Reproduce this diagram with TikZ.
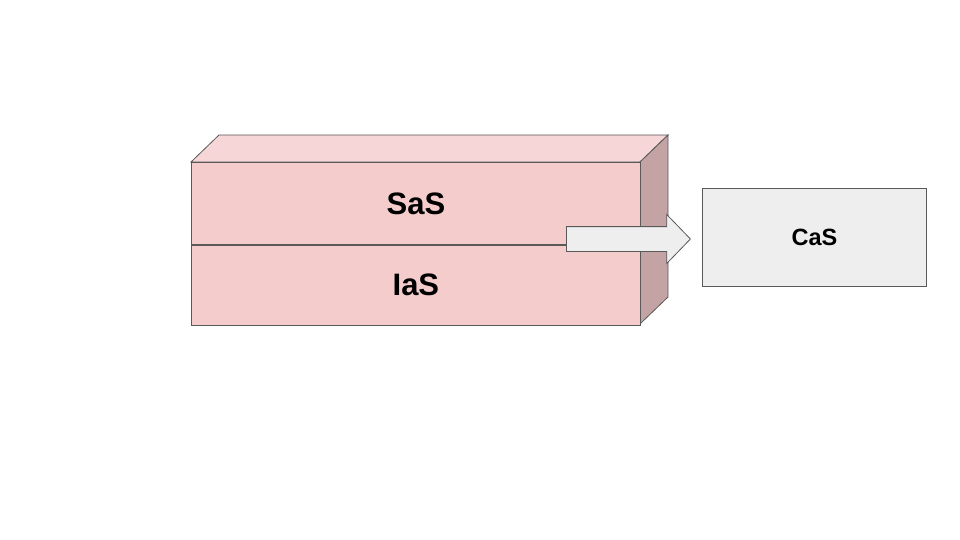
\documentclass[tikz,border=0pt]{standalone}
\usepackage{fontspec}
\setmainfont{Liberation Sans}
\usepackage{tikz}
\usepackage{xcolor}
\usetikzlibrary{positioning,shapes.arrows}

\definecolor{frontpink}{HTML}{F4CCCC}
\definecolor{toppink}{HTML}{F6D6D7}
\definecolor{sidepink}{HTML}{C3A3A4}
\definecolor{boxgray}{HTML}{EEEEEE}
\definecolor{linegray}{HTML}{595959}

\begin{document}
\begin{tikzpicture}[x=1pt, y=-1pt, line width=0.8pt]
  \tikzset{
    layer/.style={draw=linegray, rectangle, minimum width=449pt, minimum height=81pt, inner sep=0pt, fill=frontpink, font=\bfseries\fontsize{31}{36}\selectfont},
    target/.style={draw=linegray, rectangle, minimum width=224pt, minimum height=98pt, inner sep=0pt, fill=boxgray, font=\bfseries\fontsize{23.5}{28}\selectfont},
    flow/.style={draw=linegray, single arrow, fill=boxgray, minimum height=124pt, inner xsep=0pt, inner ysep=12pt, single arrow head extend=12pt, single arrow tip angle=92}
  }
  \useasboundingbox (0,0) rectangle (960,540);

  % block faces
  \fill[toppink, draw=linegray] (191,162) -- (219,135) -- (668,135) -- (640,162) -- cycle;
  \fill[sidepink, draw=linegray] (640,162) -- (668,135) -- (668,297) -- (640,324) -- cycle;

  \node[layer, minimum height=82pt, anchor=north west] (sas) at (191,162) {SaS};
  \node[layer, minimum height=80pt, below=0pt of sas] (ias) {IaS};
  \node[target, anchor=north west] (cas) at (702,188) {CaS};

  \node[flow, anchor=tail] (push) at (566,239) {};
\end{tikzpicture}
\end{document}
